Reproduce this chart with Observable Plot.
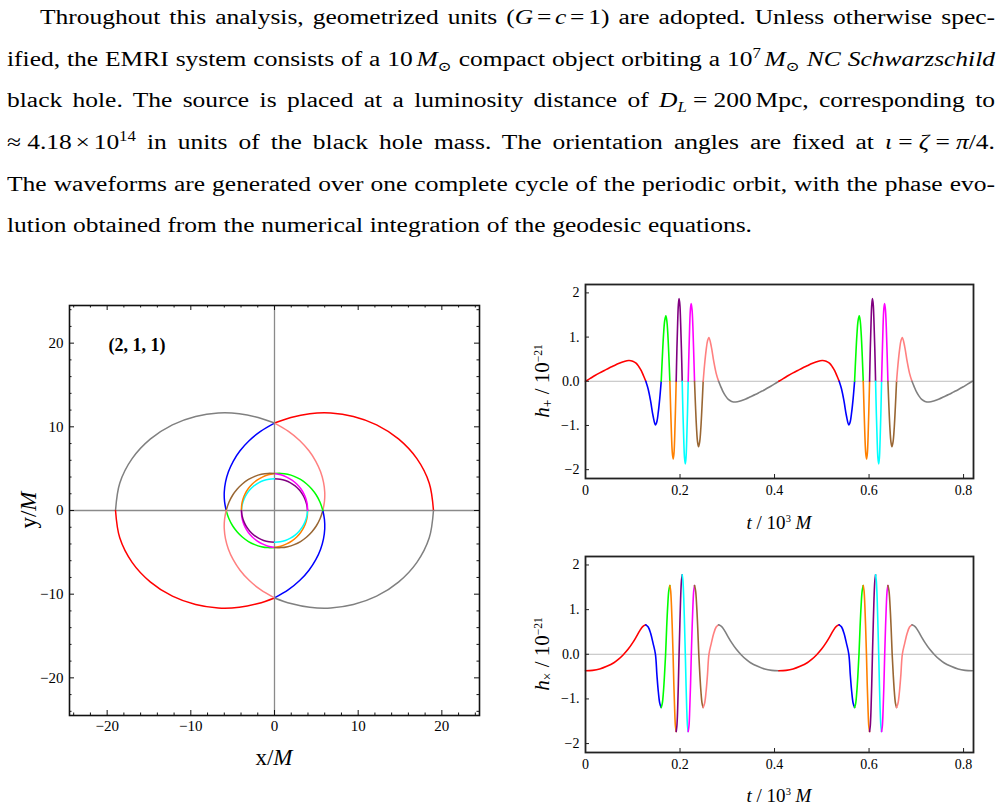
<!DOCTYPE html>
<html>
<head>
<meta charset="utf-8">
<script src="https://cdn.jsdelivr.net/npm/d3@7"></script>
<script src="https://cdn.jsdelivr.net/npm/@observablehq/plot@0.6"></script>
<style>
  body { margin: 0; background: #fff; width: 1000px; height: 810px; position: relative; overflow: hidden;
         font-family: "Liberation Serif", "DejaVu Serif", serif; color: #000; }
  #para { position: absolute; left: 7px; top: -3px; width: 988px; font-size: 20.5px; line-height: 41.67px;
          transform-origin: 0 0; }
  #para .ln { text-align: justify; text-align-last: justify; height: 41.67px; }
  sub, sup { font-size: 0.66em; line-height: 0; }
  .op { margin: 0 3px; }
  .opw { margin: 0 5px; }
  .panel { position: absolute; }
</style>
</head>
<body>
<div id="para">
  <div class="ln" id="firstLine">Throughout this analysis, geometrized units (<i>G</i><span class="op">=</span><i>c</i><span class="op">=</span>1) are adopted. Unless otherwise spec-</div>
  <div class="ln">ified, the EMRI system consists of a 10<i style="margin-left:3px">M</i><sub>⊙</sub> compact object orbiting a 10<sup>7</sup><i style="margin-left:3px">M</i><sub>⊙</sub> <i>NC Schwarzschild</i></div>
  <div class="ln">black hole. The source is placed at a luminosity distance of <i>D</i><sub><i>L</i></sub><span class="opw">=</span>200<span style="margin-left:3px">Mpc,</span> corresponding to</div>
  <div class="ln"><span style="margin-right:5px">≈</span>4.18<span class="op">×</span>10<sup>14</sup> in units of the black hole mass. The orientation angles are fixed at <i>ι</i><span class="opw">=</span><i>ζ</i><span class="opw">=</span><i>π</i>/4.</div>
  <div class="ln">The waveforms are generated over one complete cycle of the periodic orbit, with the phase evo-</div>
  <div class="ln" id="lastLine">lution obtained from the numerical integration of the geodesic equations.</div>
</div>
<div id="orbit" class="panel" style="left:0px; top:285px;"></div>
<div id="hplus" class="panel" style="left:520px; top:270px;"></div>
<div id="hcross" class="panel" style="left:520px; top:542px;"></div>

<script>
// Colours of the ten quarter-turn stretches of the orbit (also used for the waveforms)
const segmentColors = ["#ff0000", "#0000ff", "#00ff00", "#ff8000", "#800080",
                       "#00ffff", "#ff00ff", "#996633", "#ff8080", "#808080"];

// Orbit: accumulated azimuth psi (degrees) over one radial period, and radius r/M
const orbitPsi = [0, 10, 20, 30, 40, 50, 60, 70, 80, 90,
  100, 110, 120, 130, 140, 150, 160, 170, 180,
  190, 200, 210, 220, 230, 240, 250, 260, 270,
  280, 290, 300, 310, 320, 330, 340, 350, 360,
  370, 380, 390, 400, 410, 420, 430, 440, 450,
  460, 470, 480, 490, 500, 510, 520, 530, 540,
  550, 560, 570, 580, 590, 600, 610, 620, 630,
  640, 650, 660, 670, 680, 690, 700, 710, 720,
  730, 740, 750, 760, 770, 780, 790, 800, 810,
  820, 830, 840, 850, 860, 870, 880, 890, 900];
const orbitR = [19.0, 18.78, 18.11, 17.11, 15.93, 14.67, 13.45, 12.31, 11.29, 10.45,
  9.61, 8.88, 8.24, 7.68, 7.19, 6.76, 6.39, 6.06, 5.78,
  5.54, 5.33, 5.14, 4.98, 4.84, 4.71, 4.60, 4.505, 4.42,
  4.33, 4.25, 4.185, 4.13, 4.08, 4.04, 4.005, 3.976, 3.95,
  3.92, 3.89, 3.867, 3.846, 3.83, 3.817, 3.807, 3.802, 3.80,
  3.802, 3.807, 3.817, 3.83, 3.846, 3.867, 3.89, 3.92, 3.95,
  3.976, 4.005, 4.04, 4.08, 4.13, 4.185, 4.25, 4.33, 4.42,
  4.505, 4.60, 4.71, 4.84, 4.98, 5.14, 5.33, 5.54, 5.78,
  6.06, 6.39, 6.76, 7.19, 7.68, 8.24, 8.88, 9.61, 10.45,
  11.29, 12.31, 13.45, 14.67, 15.93, 17.11, 18.11, 18.78, 19.0];

// Time (in 10^3 M) at which each coloured stretch begins; the last entry is the radial period
const segmentBounds = [0, 0.1276, 0.1602, 0.1785, 0.1919, 0.2046, 0.2173, 0.2307, 0.2490, 0.2816, 0.4092];

// h_plus over one radial period (units of 1e-21)
const plusT = [0, 0.010, 0.020, 0.030, 0.040, 0.050, 0.060, 0.070, 0.080, 0.0916, 0.100, 0.107, 0.113, 0.118, 0.123, 0.1276,
  0.1327, 0.1378, 0.1429, 0.148, 0.151, 0.154, 0.1572, 0.1602,
  0.1627, 0.1651, 0.1676, 0.170, 0.1721, 0.1743, 0.1764, 0.1785,
  0.1803, 0.1820, 0.1838, 0.1856, 0.1872, 0.1888, 0.1903, 0.1919,
  0.1934, 0.1950, 0.1965, 0.198, 0.1997, 0.2013, 0.2030, 0.2046,
  0.2062, 0.2079, 0.2095, 0.2112, 0.2127, 0.2142, 0.2158, 0.2173,
  0.2189, 0.2204, 0.2220, 0.2236, 0.2254, 0.2272, 0.2289, 0.2307,
  0.2328, 0.2349, 0.2371, 0.2392, 0.2416, 0.2441, 0.2465, 0.2490,
  0.2520, 0.2552, 0.2582, 0.2612, 0.2663, 0.2714, 0.2765, 0.2816,
  0.2862, 0.2912, 0.2962, 0.3022, 0.3092, 0.3176, 0.3292, 0.3392, 0.3492, 0.3592, 0.3692, 0.3792, 0.3892, 0.3992, 0.4092];
const plusH = [0, 0.065, 0.13, 0.19, 0.245, 0.30, 0.35, 0.40, 0.44, 0.47, 0.455, 0.41, 0.33, 0.24, 0.12, 0,
  -0.18, -0.45, -0.78, -0.99, -0.915, -0.70, -0.38, 0,
  0.57, 1.05, 1.37, 1.48, 1.37, 1.05, 0.57, 0,
  -0.67, -1.24, -1.63, -1.76, -1.63, -1.24, -0.67, 0,
  0.72, 1.32, 1.73, 1.87, 1.73, 1.32, 0.72, 0,
  -0.72, -1.32, -1.73, -1.87, -1.73, -1.32, -0.72, 0,
  0.67, 1.24, 1.63, 1.76, 1.63, 1.24, 0.67, 0,
  -0.57, -1.05, -1.37, -1.48, -1.37, -1.05, -0.57, 0,
  0.38, 0.70, 0.915, 0.99, 0.78, 0.45, 0.18, 0,
  -0.12, -0.24, -0.33, -0.41, -0.455, -0.47, -0.44, -0.40, -0.35, -0.30, -0.245, -0.19, -0.13, -0.065, 0];

// h_cross over one radial period (units of 1e-21)
const crossT = [0, 0.015, 0.030, 0.045, 0.060, 0.070, 0.080, 0.090, 0.100, 0.108, 0.115, 0.121, 0.1276,
  0.1327, 0.1378, 0.1429, 0.148, 0.1511, 0.1541, 0.1572, 0.1602,
  0.1625, 0.1649, 0.1672, 0.1695, 0.1717, 0.1740, 0.1762, 0.1785,
  0.1802, 0.1819, 0.1836, 0.1853, 0.1869, 0.1886, 0.1902, 0.1919,
  0.1934, 0.1950, 0.1965, 0.198, 0.1997, 0.2013, 0.2030, 0.2046,
  0.2062, 0.2079, 0.2095, 0.2112, 0.2127, 0.2142, 0.2158, 0.2173,
  0.2190, 0.2206, 0.2223, 0.2239, 0.2256, 0.2273, 0.2290, 0.2307,
  0.2330, 0.2352, 0.2375, 0.2397, 0.2420, 0.2443, 0.2467, 0.2490,
  0.2520, 0.2551, 0.2581, 0.2612, 0.2663, 0.2714, 0.2765, 0.2816,
  0.2882, 0.2942, 0.3012, 0.3092, 0.3192, 0.3292, 0.3392, 0.3492, 0.3642, 0.3792, 0.3942, 0.4092];
const crossH = [-0.37, -0.36, -0.33, -0.27, -0.19, -0.11, -0.01, 0.11, 0.26, 0.40, 0.53, 0.62, 0.66,
  0.61, 0.47, 0.25, 0, -0.46, -0.84, -1.10, -1.19,
  -1.10, -0.84, -0.46, 0, 0.59, 1.09, 1.42, 1.54,
  1.42, 1.09, 0.59, 0, -0.66, -1.22, -1.60, -1.73,
  -1.60, -1.22, -0.66, 0, 0.68, 1.26, 1.64, 1.78,
  1.64, 1.26, 0.68, 0, -0.66, -1.22, -1.60, -1.73,
  -1.60, -1.22, -0.66, 0, 0.59, 1.09, 1.42, 1.54,
  1.42, 1.09, 0.59, 0, -0.46, -0.84, -1.10, -1.19,
  -1.10, -0.84, -0.46, 0, 0.25, 0.47, 0.61, 0.66,
  0.62, 0.53, 0.40, 0.26, 0.11, -0.01, -0.11, -0.19, -0.27, -0.33, -0.36, -0.37];

// Tick values and their printed labels
const orbitTickValues = [-20, -10, 0, 10, 20];
const orbitTickLabels = ["−20", "−10", "0", "10", "20"];
const orbitMinorTicks = [-24, -22, -18, -16, -14, -12, -8, -6, -4, -2, 2, 4, 6, 8, 12, 14, 16, 18, 22, 24];
const timeTickValues = [0, 0.2, 0.4, 0.6, 0.8];
const timeTickLabels = ["0", "0.2", "0.4", "0.6", "0.8"];
const strainTickValues = [-2, -1, 0, 1, 2];
const strainTickLabels = ["−2", "−1.", "0.0", "1.", "2"];

const serif = "'Liberation Serif', 'DejaVu Serif', serif";

// Stretch the paragraph horizontally so its closing line runs to the full printed width
{
  const para = document.getElementById("para");
  const last = document.getElementById("lastLine");
  const probe = document.createElement("span");
  probe.style.cssText = "position:absolute;visibility:hidden;white-space:nowrap;font-size:20.5px;font-family:" + serif;
  probe.textContent = last.textContent;
  document.body.append(probe);
  const w = probe.getBoundingClientRect().width;
  probe.remove();
  const s = 743 / w;
  para.style.width = (988 / s) + "px";
  para.style.transform = `scaleX(${s})`;
  last.style.width = (745 / s) + "px";
  document.getElementById("firstLine").style.paddingLeft = (33 / s) + "px";
}

// Append a text made of styled pieces (italic, sub/superscript) to an SVG
function richText(svg, x, y, parts, {size = 16, rotate = false} = {}) {
  const t = d3.select(svg).append("text")
    .attr("text-anchor", "middle")
    .attr("font-family", serif)
    .attr("font-size", size)
    .attr("fill", "#000");
  if (rotate) t.attr("transform", `translate(${x},${y}) rotate(-90)`);
  else t.attr("x", x).attr("y", y);
  for (const p of parts) {
    const s = t.append("tspan").text(p.text);
    if (p.italic) s.attr("font-style", "italic");
    if (p.sub) s.attr("baseline-shift", -3).attr("font-size", size * 0.65);
    if (p.sup) s.attr("baseline-shift", 7).attr("font-size", size * 0.55);
  }
}

// ---------- Orbit in the equatorial plane ----------
const orbitRows = [];
for (let half = 0; half < 2; half++) {
  for (let k = 0; k < 10; k++) {
    for (let i = 9 * k; i <= 9 * k + 9; i++) {
      const th = (orbitPsi[i] + 180 * half) * Math.PI / 180;
      orbitRows.push({x: orbitR[i] * Math.cos(th), y: orbitR[i] * Math.sin(th),
                      key: half * 10 + k, color: segmentColors[k]});
    }
  }
}

{
  const W = 495, H = 500, mL = 69, mR = 16, mT = 20, mB = 70;
  const fw = W - mL - mR, fh = H - mT - mB;
  const plot = Plot.plot({
    width: W, height: H, marginLeft: mL, marginRight: mR, marginTop: mT, marginBottom: mB,
    x: {domain: [-24.5, 24.5]},
    y: {domain: [-24.5, 24.5]},
    color: {type: "identity"},
    style: {fontFamily: serif, fontSize: "15px", color: "#000", background: "transparent"},
    marks: [
      Plot.ruleX([0], {stroke: "#8a8a8a", strokeWidth: 1.3}),
      Plot.ruleY([0], {stroke: "#8a8a8a", strokeWidth: 1.3}),
      Plot.line(orbitRows, {x: "x", y: "y", z: "key", stroke: "color", strokeWidth: 1.5, curve: "catmull-rom"}),
      Plot.tickX(orbitTickValues, {x: d => d, insetTop: fh - 5, stroke: "#111"}),
      Plot.tickX(orbitTickValues, {x: d => d, insetBottom: fh - 5, stroke: "#111"}),
      Plot.tickY(orbitTickValues, {y: d => d, insetRight: fw - 5, stroke: "#111"}),
      Plot.tickY(orbitTickValues, {y: d => d, insetLeft: fw - 5, stroke: "#111"}),
      Plot.tickX(orbitMinorTicks, {x: d => d, insetTop: fh - 2.5, stroke: "#111"}),
      Plot.tickX(orbitMinorTicks, {x: d => d, insetBottom: fh - 2.5, stroke: "#111"}),
      Plot.tickY(orbitMinorTicks, {y: d => d, insetRight: fw - 2.5, stroke: "#111"}),
      Plot.tickY(orbitMinorTicks, {y: d => d, insetLeft: fw - 2.5, stroke: "#111"}),
      Plot.frame({stroke: "#111", strokeWidth: 1.6}),
      Plot.axisX({ticks: orbitTickValues, tickSize: 0, tickPadding: 5, label: null, fontSize: 15,
                  tickFormat: d => orbitTickLabels[orbitTickValues.indexOf(d)]}),
      Plot.axisY({ticks: orbitTickValues, tickSize: 0, tickPadding: 6, label: null, fontSize: 15,
                  tickFormat: d => orbitTickLabels[orbitTickValues.indexOf(d)]}),
      Plot.text(["(2, 1, 1)"], {text: d => d, frameAnchor: "top-left", dx: 39, dy: 33,
                                textAnchor: "start", lineAnchor: "top", fontWeight: "bold", fontSize: 18})
    ]
  });
  document.getElementById("orbit").append(plot);
  richText(plot, mL + fw / 2, 480, [{text: "x/"}, {text: "M", italic: true}], {size: 23});
  richText(plot, 36, mT + fh / 2, [{text: "y/"}, {text: "M", italic: true}], {size: 23, rotate: true});
}

// ---------- Waveforms ----------
function waveRows(times, values) {
  const period = segmentBounds[segmentBounds.length - 1];
  const rows = [];
  for (let cycle = 0; cycle < 2; cycle++) {
    for (let k = 0; k < 10; k++) {
      times.forEach((t, i) => {
        if (t >= segmentBounds[k] - 1e-9 && t <= segmentBounds[k + 1] + 1e-9) {
          rows.push({t: t + cycle * period, h: values[i], key: cycle * 10 + k, color: segmentColors[k]});
        }
      });
    }
  }
  return rows;
}

function wavePanel(id, rows, mB, subscript, titleY) {
  const W = 470, H = 270, mL = 65, mR = 17, mT = 14;
  const fw = W - mL - mR, fh = H - mT - mB;
  const plot = Plot.plot({
    width: W, height: H, marginLeft: mL, marginRight: mR, marginTop: mT, marginBottom: mB,
    x: {domain: [0, 0.821]},
    y: {domain: [-2.2, 2.19]},
    color: {type: "identity"},
    style: {fontFamily: serif, fontSize: "13px", color: "#000", background: "transparent"},
    marks: [
      Plot.ruleY([0], {stroke: "#bdbdbd", strokeWidth: 1}),
      Plot.line(rows, {x: "t", y: "h", z: "key", stroke: "color", strokeWidth: 1.6, curve: "catmull-rom"}),
      Plot.tickX(timeTickValues, {x: d => d, insetTop: fh - 4, stroke: "#222"}),
      Plot.tickY(strainTickValues, {y: d => d, insetRight: fw - 4, stroke: "#222"}),
      Plot.frame({stroke: "#222", strokeWidth: 1.8}),
      Plot.axisX({ticks: timeTickValues, tickSize: 0, tickPadding: 7, label: null, fontSize: 14,
                  tickFormat: d => timeTickLabels[timeTickValues.indexOf(d)]}),
      Plot.axisY({ticks: strainTickValues, tickSize: 0, tickPadding: 6, label: null, fontSize: 14,
                  tickFormat: d => strainTickLabels[strainTickValues.indexOf(d)]})
    ]
  });
  document.getElementById(id).append(plot);
  richText(plot, 29, mT + fh / 2,
    [{text: "h", italic: true}, {text: subscript, sub: true}, {text: " / 10"}, {text: "−21", sup: true}],
    {size: 21, rotate: true});
  richText(plot, mL + fw / 2, titleY,
    [{text: "t", italic: true}, {text: " / 10"}, {text: "3", sup: true}, {text: " "}, {text: "M", italic: true}],
    {size: 19});
}

wavePanel("hplus", waveRows(plusT, plusH), 62, "+", 259);
wavePanel("hcross", waveRows(crossT, crossH), 60, "×", 260);
</script>
</body>
</html>
